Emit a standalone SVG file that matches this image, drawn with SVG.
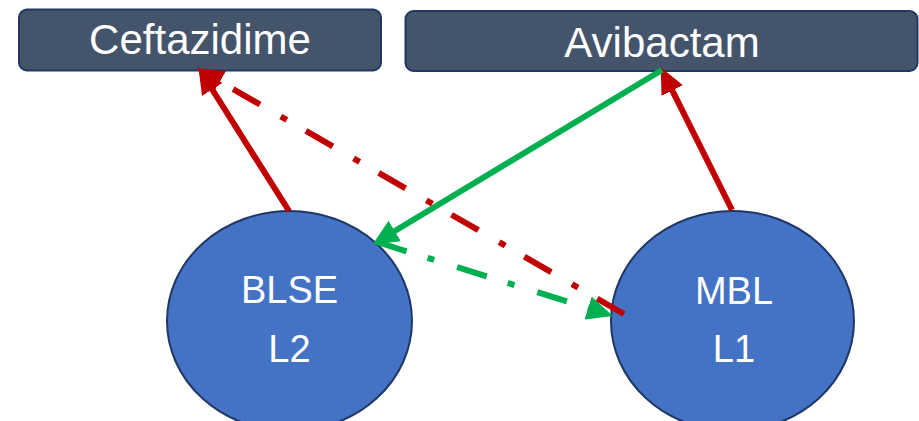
<svg xmlns="http://www.w3.org/2000/svg" width="919" height="421" viewBox="0 0 919 421">
  <style>
    .box { fill: #44546A; stroke: #1F3864; stroke-width: 2; }
    .ell { fill: #4472C4; stroke: #1F3864; stroke-width: 2; }
    .lbl { fill: #FFFFFF; font-family: "Liberation Sans", Arial, sans-serif; font-size: 42px; text-anchor: middle; }
    .nl { font-size: 38px; }
    .red { stroke: #C00000; stroke-width: 6; fill: none; }
    .green { stroke: #00B050; stroke-width: 6; fill: none; }
    .dd { stroke-dasharray: 31 22 7 24; }
  </style>
  <defs>
    <marker id="arrRed" markerUnits="userSpaceOnUse" markerWidth="26" markerHeight="24" viewBox="0 0 26 24" refX="13" refY="12" orient="auto">
      <path d="M0,0 L26,12 L0,24 z" fill="#C00000"/>
    </marker>
    <marker id="arrGreen" markerUnits="userSpaceOnUse" markerWidth="26" markerHeight="24" viewBox="0 0 26 24" refX="13" refY="12" orient="auto">
      <path d="M0,0 L26,12 L0,24 z" fill="#00B050"/>
    </marker>
  </defs>

  <g id="ceftazidime">
    <rect class="box" x="19" y="9.5" width="362" height="61" rx="8"/>
    <text class="lbl" x="200" y="54">Ceftazidime</text>
  </g>
  <g id="avibactam">
    <rect class="box" x="405.5" y="11" width="512" height="60" rx="8"/>
    <text class="lbl" x="662" y="57">Avibactam</text>
  </g>
  <g id="blse">
    <ellipse class="ell" cx="289.5" cy="321" rx="122.5" ry="110"/>
    <text class="lbl nl" x="289.5" y="303">BLSE</text>
    <text class="lbl nl" x="289.5" y="362">L2</text>
  </g>
  <g id="mbl">
    <ellipse class="ell" cx="732.5" cy="321" rx="121.5" ry="110"/>
    <text class="lbl nl" x="734" y="304">MBL</text>
    <text class="lbl nl" x="734" y="362">L1</text>
  </g>

  <g id="connectors">
    <line class="red" x1="289" y1="211" x2="205.3" y2="78.5" marker-end="url(#arrRed)"/>
    <line class="red" x1="732" y1="210" x2="666.5" y2="78.9" marker-end="url(#arrRed)"/>
    <line class="green" x1="662" y1="70" x2="383.6" y2="237.8" marker-end="url(#arrGreen)"/>
    <line class="red dd" x1="624" y1="314" x2="208.7" y2="75" marker-end="url(#arrRed)"/>
    <line class="green dd" x1="377" y1="242" x2="600.5" y2="312" marker-end="url(#arrGreen)"/>
  </g>
</svg>
